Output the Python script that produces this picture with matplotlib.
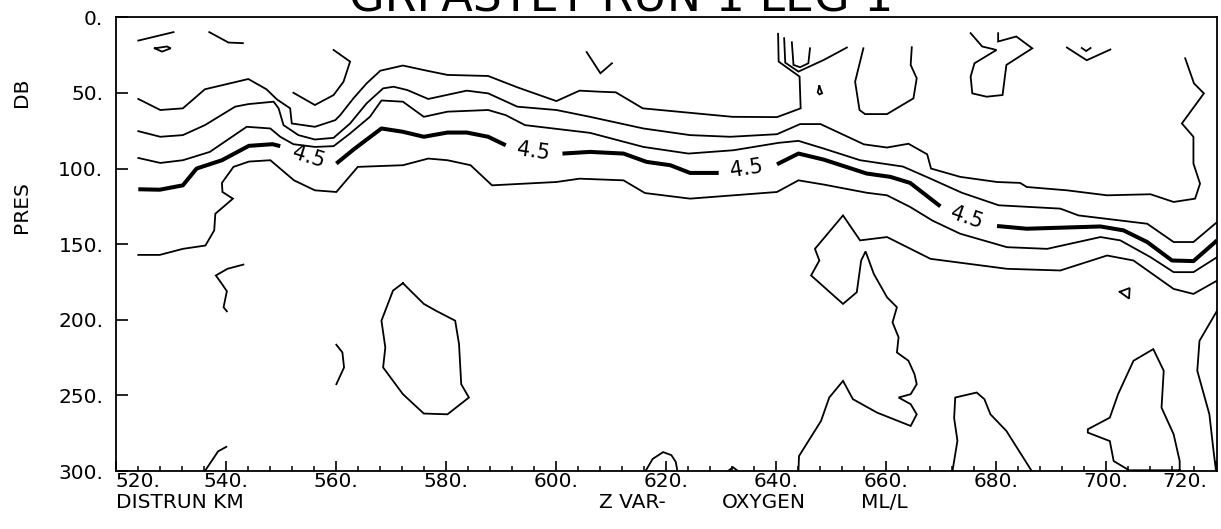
import math

import numpy as np
import matplotlib
matplotlib.use("Agg")
import matplotlib.pyplot as plt
from matplotlib.transforms import ScaledTranslation

# Oxygen section, contour traces as (distance km, pressure dbar)
band_1 = [(524.1, 54.0), (528.1, 61.3), (532.2, 60.2), (536.2, 47.6), (544.1, 40.8), (547.4, 47.6),
          (549.3, 54.3), (551.7, 60.2), (552.0, 70.2), (556.2, 72.4), (559.9, 68.0), (560.8, 64.7),
          (563.2, 53.6), (565.6, 43.7), (568.1, 35.3), (572.2, 31.9), (576.8, 35.5), (580.3, 38.1),
          (587.7, 38.8), (593.0, 46.3), (600.1, 55.4), (604.3, 48.5), (608.0, 49.2), (610.9, 49.6),
          (615.8, 60.2), (632.1, 65.8), (640.2, 66.0), (644.5, 60.2), (644.3, 39.2), (640.5, 29.3),
          (640.4, 10.9)]
band_2 = [(524.1, 75.3), (528.1, 79.0), (532.2, 77.9), (536.2, 71.3), (541.7, 59.1), (544.1, 57.4),
          (548.7, 55.8), (549.6, 60.2), (550.5, 71.3), (553.2, 77.9), (556.2, 80.8), (559.6, 79.7),
          (562.6, 70.2), (565.6, 56.9), (568.6, 47.0), (570.5, 45.9), (573.0, 48.1), (576.8, 54.0),
          (583.8, 48.5), (587.7, 50.3), (593.0, 59.1), (600.1, 61.3), (606.2, 65.8), (615.9, 73.5),
          (624.4, 77.9), (631.7, 79.0), (640.2, 77.3), (644.4, 70.6), (648.1, 70.6), (656.0, 84.0),
          (660.2, 86.1), (664.1, 83.6), (667.5, 90.6), (668.2, 100.0), (673.5, 105.5), (680.2, 108.9),
          (684.4, 109.5), (685.6, 112.2), (692.9, 114.4), (700.2, 117.7), (708.1, 117.0), (712.3, 122.1),
          (716.2, 119.9), (717.1, 110.0), (715.9, 96.7), (715.9, 79.0), (713.8, 70.2), (717.8, 50.3),
          (716.0, 43.7), (714.4, 27.1)]
band_3 = [(524.1, 93.0), (528.1, 96.3), (532.2, 94.5), (537.1, 89.0), (543.8, 72.4), (548.1, 73.5),
          (549.9, 79.0), (552.3, 83.9), (556.2, 85.7), (559.6, 85.2), (562.6, 76.8), (566.2, 65.8),
          (568.3, 55.0), (572.2, 55.8), (576.0, 65.8), (580.3, 62.4), (587.7, 61.3), (590.9, 64.7),
          (594.4, 71.3), (606.2, 76.4), (615.9, 85.7), (624.1, 90.1), (632.3, 87.9), (640.5, 83.0),
          (644.1, 81.7), (648.7, 86.8), (655.3, 94.5), (663.1, 98.7), (668.0, 106.5), (673.8, 116.0),
          (680.5, 124.3), (691.7, 126.5), (695.0, 131.0), (707.5, 136.5), (712.3, 148.6), (715.9, 148.6),
          (720.2, 135.4)]
# the 4.5 ml/l isoline (heavy), labelled in four places
oxy_45 = [(524.1, 113.7), (528.0, 114.0), (532.2, 111.1), (534.7, 100.0), (539.3, 94.5), (544.2, 85.0),
          (548.5, 83.9), (549.9, 85.2), (560.1, 96.7), (563.3, 87.2), (568.3, 73.5), (572.2, 75.7),
          (576.0, 79.0), (580.3, 76.2), (583.8, 76.2), (587.7, 79.0), (590.9, 84.6), (601.2, 90.1),
          (606.2, 89.0), (612.3, 90.1), (616.5, 95.6), (620.8, 97.8), (624.4, 102.9), (629.6, 102.9),
          (640.2, 97.2), (644.1, 90.1), (648.7, 94.1), (656.5, 103.3), (660.8, 105.5), (664.4, 109.5),
          (669.9, 125.0), (680.2, 138.0), (685.6, 139.8), (699.0, 138.3), (703.2, 140.9), (707.5, 148.6),
          (712.0, 160.8), (715.9, 161.2), (720.2, 147.5)]
label_gaps = [7, 16, 23, 30]   # label sits between point i and i+1
label_pos = [(555.0, 92.5), (595.9, 89.0), (634.7, 100.0), (674.7, 132.6)]
band_5 = [(524.1, 157.1), (528.0, 157.1), (532.2, 153.1), (536.3, 150.9), (537.9, 140.9), (538.1, 129.9),
          (541.3, 119.9), (539.4, 115.5), (539.3, 109.5), (541.4, 98.9), (544.2, 95.4), (548.1, 94.5),
          (552.4, 107.8), (556.2, 114.4), (560.1, 115.5), (564.0, 98.9), (572.2, 97.8), (576.8, 93.4),
          (580.3, 94.5), (584.5, 97.8), (588.4, 111.1), (600.1, 108.9), (604.3, 106.7), (612.3, 107.8),
          (616.2, 116.2), (624.4, 119.9), (632.3, 117.7), (640.2, 115.5), (644.1, 107.8), (648.7, 110.6),
          (656.5, 116.0), (660.2, 117.7), (664.4, 125.4), (668.5, 134.5), (673.5, 143.1), (682.0, 152.0),
          (689.3, 153.1), (699.0, 145.3), (702.6, 147.5), (708.1, 158.6), (712.3, 168.5), (715.9, 168.5),
          (720.2, 158.6)]
band_6 = [(644.1, 300.0), (644.2, 290.1), (648.2, 266.9), (649.7, 251.4), (652.2, 240.4), (654.0, 252.5),
          (658.4, 261.4), (664.5, 270.2), (665.6, 262.5), (664.5, 255.8), (662.3, 251.4), (664.5, 249.2),
          (665.6, 242.6), (665.2, 236.0), (664.1, 227.1), (662.0, 221.6), (662.3, 211.6), (661.2, 201.7),
          (662.0, 191.7), (660.2, 185.1), (657.8, 169.7), (656.3, 154.8), (655.5, 160.8), (654.7, 181.8),
          (652.2, 189.5), (646.4, 170.7), (647.9, 160.8), (647.1, 153.1), (652.2, 131.0), (655.3, 147.5),
          (660.2, 145.3), (668.1, 159.7), (682.0, 166.3), (691.7, 167.4), (700.2, 157.5), (705.0, 160.8),
          (712.3, 179.6), (715.9, 182.9), (720.2, 174.1)]

# small isolated pieces
near_surface = [
    [(524.1, 15.4), (530.5, 9.8)],
    [(527.1, 20.5), (529.3, 19.3), (530.0, 20.5), (528.4, 22.7), (527.1, 20.5)],
    [(537.0, 9.8), (540.5, 16.7), (543.1, 17.1)],
    [(559.6, 21.6), (562.6, 29.3), (561.4, 42.6), (559.6, 51.4), (556.2, 58.0), (552.3, 49.9)],
    [(605.6, 23.0), (608.1, 37.0), (610.2, 30.4)],
    [(641.5, 13.8), (641.7, 30.0), (644.1, 35.9), (648.7, 28.2), (652.9, 20.0)],
    [(642.9, 16.5), (643.2, 31.5), (644.4, 33.0), (645.9, 30.4), (646.2, 20.5)],
    [(647.9, 45.5), (648.4, 50.2), (647.9, 51.0), (647.6, 49.5), (647.9, 45.5)],
    [(655.9, 20.5), (654.4, 42.6), (655.2, 61.3), (656.2, 64.0), (660.2, 64.0), (665.0, 53.6),
     (665.6, 40.3), (664.5, 31.5), (664.7, 19.8)],
    [(675.4, 10.5), (677.5, 19.3), (680.1, 21.6), (676.1, 30.4), (675.4, 39.2), (675.7, 50.3),
     (678.3, 52.5), (681.2, 51.4), (681.9, 31.5), (686.6, 20.5), (683.7, 12.7), (680.4, 16.0),
     (680.4, 10.5)],
    [(692.9, 20.0), (696.5, 28.4), (700.8, 21.3)],
    [(695.6, 20.3), (696.4, 22.3), (697.2, 20.3)],
]
deep_pieces = [
    [(543.2, 163.5), (540.3, 166.3), (538.2, 170.7), (539.3, 176.3), (540.2, 181.1), (539.6, 191.7),
     (540.2, 194.4)],
    [(560.1, 216.5), (561.2, 221.6), (561.5, 231.5), (560.1, 242.6)],
    [(572.2, 175.8), (570.4, 180.7), (568.3, 200.6), (569.0, 218.3), (568.6, 231.5), (572.2, 249.2),
     (576.0, 262.0), (580.3, 262.5), (584.2, 251.4), (582.8, 242.6), (582.4, 216.1), (581.7, 200.6),
     (578.2, 194.0), (576.0, 189.5), (572.2, 175.8)],
    [(536.2, 300.0), (537.5, 293.0), (538.6, 287.0), (540.1, 284.0)],
    [(616.3, 300.0), (617.6, 292.0), (619.5, 287.5), (621.0, 289.5), (621.8, 294.0), (622.1, 300.0)],
    [(631.3, 300.0), (632.2, 297.5), (633.1, 300.0)],
    [(672.1, 300.0), (673.0, 280.0), (672.4, 265.0), (672.6, 251.4), (676.5, 248.1), (677.9, 252.5),
     (679.0, 262.5), (681.9, 273.5), (686.5, 300.0)],
    [(702.5, 181.5), (704.3, 179.0), (704.2, 186.0), (702.5, 181.5)],
    [(713.4, 299.5), (713.4, 293.4), (712.3, 275.7), (710.1, 258.1), (710.5, 233.7), (708.6, 219.4),
     (705.0, 227.1), (702.2, 249.2), (700.7, 264.7), (696.7, 272.4), (696.7, 274.6), (700.7, 280.2),
     (701.4, 293.4), (704.2, 299.5), (713.4, 299.5)],
    [(720.2, 194.0), (717.0, 213.9), (716.6, 233.7), (718.8, 262.5), (719.5, 285.0), (720.0, 300.0)],
]

x_ticks = list(range(520, 721, 20))
y_ticks = list(range(0, 301, 50))
title = "GRPASTEY RUN 1 LEG 1"

plt.rcParams["font.family"] = "DejaVu Sans"
fig = plt.figure(figsize=(12.21, 5.29), dpi=100)
ax = fig.add_axes([0.0948, 0.1096, 0.902, 0.8577])
ax.set_xlim(520, 720.2)
ax.set_ylim(300, 0)

thin = dict(color="black", lw=1.3, solid_joinstyle="miter")
for line in [band_1, band_2, band_3, band_5, band_6] + near_surface + deep_pieces:
    xs, ys = zip(*line)
    ax.plot(xs, ys, **thin)

# heavy 4.5 line, broken where the labels go
start = 0
for g in label_gaps + [len(oxy_45) - 1]:
    xs, ys = zip(*oxy_45[start:g + 1])
    ax.plot(xs, ys, color="black", lw=2.9, solid_capstyle="butt")
    start = g + 1

fig.canvas.draw()
for g, (lx, ly) in zip(label_gaps, label_pos):
    p0 = ax.transData.transform(oxy_45[g])
    p1 = ax.transData.transform(oxy_45[g + 1])
    ang = math.degrees(math.atan2(p1[1] - p0[1], p1[0] - p0[0]))
    ax.text(lx, ly, "4.5", fontsize=15, rotation=ang, rotation_mode="anchor",
            ha="center", va="center")

ax.set_xticks(x_ticks)
ax.set_xticks(np.arange(520, 721, 4), minor=True)
ax.set_xticklabels([f"{v}." for v in x_ticks])
ax.set_yticks(y_ticks)
ax.set_yticklabels([f"{v}." for v in y_ticks])
ax.tick_params(axis="x", which="major", direction="in", length=7.5, width=1.2,
               top=False, pad=1, labelsize=14.5)
ax.tick_params(axis="x", which="minor", direction="in", length=3.8, width=1.1, top=False)
ax.tick_params(axis="y", direction="in", length=8.5, width=1.2, right=False, pad=9, labelsize=14.5)
xl = ax.get_xticklabels()
xl[0].set_ha("left")
xl[-1].set_ha("right")
xl[-1].set_transform(xl[-1].get_transform() + ScaledTranslation(-6 / 72, 0, fig.dpi_scale_trans))
for s in ax.spines.values():
    s.set_linewidth(1.3)

lab_y = 1 - 503 / 529
fig.text(0.5086, 1 - 12 / 529, title, fontsize=33, ha="center", va="baseline")
fig.text(0.0948, lab_y, "DISTRUN KM", fontsize=14.5, ha="left", va="center")
fig.text(0.4906, lab_y, "Z VAR-", fontsize=14.5, ha="left", va="center")
fig.text(0.5913, lab_y, "OXYGEN", fontsize=14.5, ha="left", va="center")
fig.text(0.7052, lab_y, "ML/L", fontsize=14.5, ha="left", va="center")
fig.text(0.0175, 0.6087, "PRES", fontsize=14.5, rotation=90, ha="center", va="center")
fig.text(0.0175, 0.826, "DB", fontsize=14.5, rotation=90, ha="center", va="center")

fig.savefig("out.png", dpi=100)
plt.close(fig)
